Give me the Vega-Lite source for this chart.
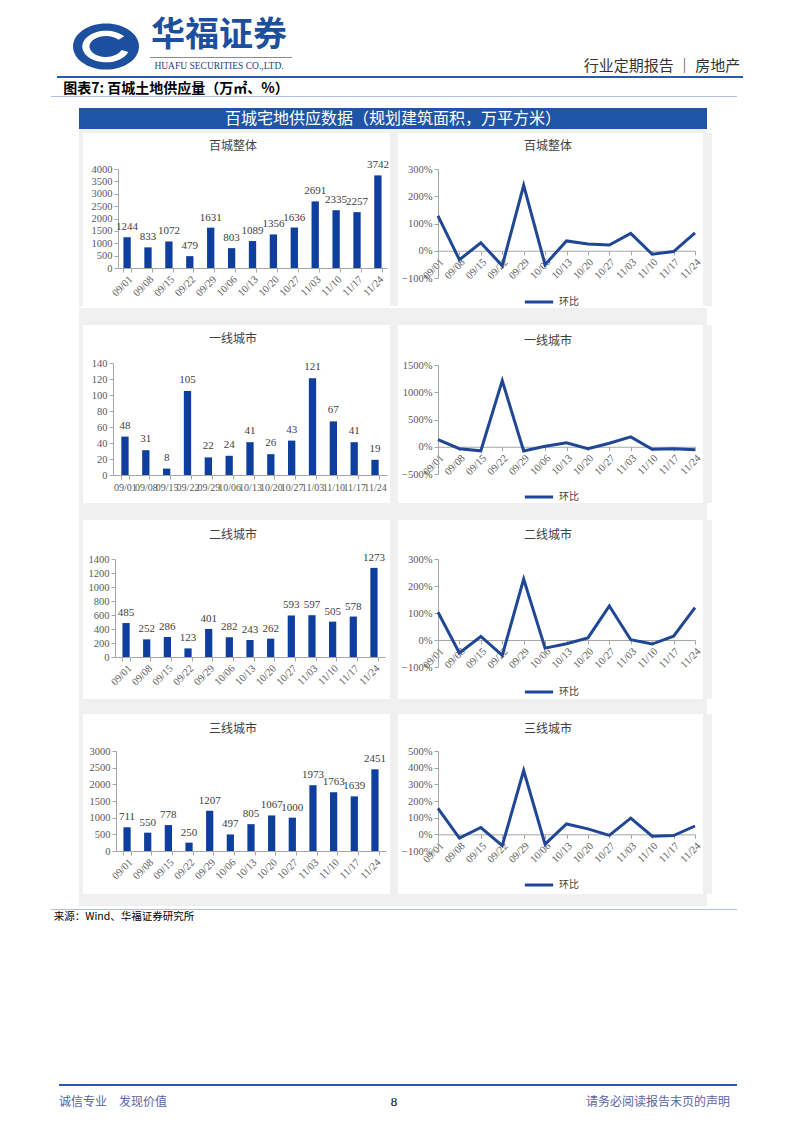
{
"$schema": "https://vega.github.io/schema/vega-lite/v6.json",
"padding": 0,
"background": "white",
"spacing": 0,
"resolve": {"scale": {"color": "independent"}, "legend": {"color": "independent"}},
"datasets": {"d": [
{"date":"09/01","total":1244,"t1":48,"t2":485,"t3":711,"total_mom":1.28,"t1_mom":1.30,"t2_mom":1.03,"t3_mom":1.56},
{"date":"09/08","total":833,"t1":31,"t2":252,"t3":550,"total_mom":-0.33,"t1_mom":-0.35,"t2_mom":-0.48,"t3_mom":-0.23},
{"date":"09/15","total":1072,"t1":8,"t2":286,"t3":778,"total_mom":0.29,"t1_mom":-0.74,"t2_mom":0.13,"t3_mom":0.41},
{"date":"09/22","total":479,"t1":105,"t2":123,"t3":250,"total_mom":-0.55,"t1_mom":12.13,"t2_mom":-0.57,"t3_mom":-0.68},
{"date":"09/29","total":1631,"t1":22,"t2":401,"t3":1207,"total_mom":2.40,"t1_mom":-0.79,"t2_mom":2.26,"t3_mom":3.83},
{"date":"10/06","total":803,"t1":24,"t2":282,"t3":497,"total_mom":-0.51,"t1_mom":0.09,"t2_mom":-0.30,"t3_mom":-0.59},
{"date":"10/13","total":1089,"t1":41,"t2":243,"t3":805,"total_mom":0.36,"t1_mom":0.71,"t2_mom":-0.14,"t3_mom":0.62},
{"date":"10/20","total":1356,"t1":26,"t2":262,"t3":1067,"total_mom":0.25,"t1_mom":-0.37,"t2_mom":0.08,"t3_mom":0.33},
{"date":"10/27","total":1636,"t1":43,"t2":593,"t3":1000,"total_mom":0.21,"t1_mom":0.65,"t2_mom":1.26,"t3_mom":-0.06},
{"date":"11/03","total":2691,"t1":121,"t2":597,"t3":1973,"total_mom":0.64,"t1_mom":1.81,"t2_mom":0.01,"t3_mom":0.97},
{"date":"11/10","total":2335,"t1":67,"t2":505,"t3":1763,"total_mom":-0.13,"t1_mom":-0.45,"t2_mom":-0.15,"t3_mom":-0.11},
{"date":"11/17","total":2257,"t1":41,"t2":578,"t3":1639,"total_mom":-0.03,"t1_mom":-0.39,"t2_mom":0.14,"t3_mom":-0.07},
{"date":"11/24","total":3742,"t1":19,"t2":1273,"t3":2451,"total_mom":0.66,"t1_mom":-0.54,"t2_mom":1.20,"t3_mom":0.50}
]},
"config": {
 "view": {"stroke": null},
 "concat": {"spacing": 0},
 "axis": {"labelFont": "Liberation Serif", "labelFontSize": 10.5, "labelColor": "#595959", "domainColor": "#a6a6a6", "tickColor": "#a6a6a6", "tickSize": 4, "grid": false, "labelPadding": 2},
 "title": {"font": "Noto Sans CJK SC", "fontSize": 12, "fontWeight": "normal", "color": "#404040", "anchor": "middle", "frame": "group"},
 "legend": {"direction": "horizontal", "symbolType": "stroke", "symbolStrokeWidth": 3, "symbolSize": 800, "labelFont": "Noto Sans CJK SC", "labelFontSize": 10, "labelColor": "#404040"}
},
"vconcat": [
 {"spacing":0,"hconcat":[
  {"width":73,"height":76,"data":{"values":[]},"mark":"point"},
  {"spacing":0,"vconcat":[
   {"width":66,"height":23,"data":{"values":[]},"mark":"point"},
   {"width":66,"height":47,"data":{"values":[{"k":1}]},"layer":[
    {"mark":{"type":"point","shape":"M-1,0A1,0.7,0,1,1,1,0A1,0.7,0,1,1,-1,0Z","size":4356,"filled":true,"color":"#1d4f9f","opacity":1,"strokeWidth":0}},
    {"mark":{"type":"point","shape":"M0.552,-0.309A0.72,0.48,0,1,0,0.677,0.164L0.47,0.109A0.5,0.32,0,1,1,0.383,-0.206Z","size":4356,"filled":true,"color":"white","opacity":1,"strokeWidth":0}}
   ]}
  ]},
  {"spacing":0,"vconcat":[
   {"width":160,"height":18,"data":{"values":[]},"mark":"point"},
   {"width":160,"height":36,"data":{"values":[{"t":"华福证券"}]},"mark":{"type":"text","font":"Noto Sans CJK SC","fontSize":34,"fontWeight":"bold","color":"#1d4f9f"},"encoding":{"text":{"field":"t","type":"nominal"}}},
   {"width":160,"height":3,"data":{"values":[]},"mark":"point"},
   {"spacing":0,"hconcat":[
    {"width":11,"height":1,"data":{"values":[]},"mark":"point"},
    {"width":142,"height":1,"view":{"fill":"#8c8c8c"},"data":{"values":[]},"mark":"point"}
   ]},
   {"width":160,"height":2,"data":{"values":[]},"mark":"point"},
   {"width":160,"height":12,"data":{"values":[{"t":"HUAFU SECURITIES CO.,LTD."}]},"mark":{"type":"text","font":"Liberation Serif","fontSize":9.5,"color":"#1d3f7a"},"encoding":{"text":{"field":"t","type":"nominal"}}}
  ]},
  {"width":277,"height":76,"data":{"values":[]},"mark":"point"},
  {"spacing":0,"vconcat":[
   {"width":172,"height":57,"data":{"values":[]},"mark":"point"},
   {"width":172,"height":18,"data":{"values":[{"t":"行业定期报告 ｜ 房地产"}]},"mark":{"type":"text","font":"Noto Sans CJK SC","fontSize":15,"color":"#333333"},"encoding":{"text":{"field":"t","type":"nominal"}}}
  ]}
 ]},
 {"spacing":0,"hconcat":[
  {"width":57,"height":2,"data":{"values":[]},"mark":"point"},
  {"width":686,"height":2,"view":{"fill":"#2c5aa6"},"data":{"values":[]},"mark":"point"}
 ]},
 {"width":10,"height":3,"data":{"values":[]},"mark":"point"},
 {"spacing":0,"hconcat":[
  {"width":46,"height":15,"data":{"values":[]},"mark":"point"},
  {"width":260,"height":15,"data":{"values":[{"t":"图表7: 百城土地供应量（万㎡、%）"}]},"mark":{"type":"text","font":"Noto Sans CJK SC","fontSize":14,"fontWeight":"bold","color":"#000000"},"encoding":{"text":{"field":"t","type":"nominal"}}}
 ]},
 {"spacing":0,"hconcat":[
  {"width":51,"height":1,"data":{"values":[]},"mark":"point"},
  {"width":686,"height":1,"view":{"fill":"#b3bfd8"},"data":{"values":[]},"mark":"point"}
 ]},
 {"width":10,"height":11,"data":{"values":[]},"mark":"point"},
 {"spacing":0,"hconcat":[
  {"width":79,"height":21,"data":{"values":[]},"mark":"point"},
  {"width":628,"height":21,"view":{"fill":"#1f55a6"},"data":{"values":[{"t":"百城宅地供应数据（规划建筑面积，万平方米）"}]},"mark":{"type":"text","font":"Noto Sans CJK SC","fontSize":16,"color":"white"},"encoding":{"text":{"field":"t","type":"nominal"}}}
 ]},
 {"spacing":0,"hconcat":[
  {"width":79,"height":4,"data":{"values":[]},"mark":"point"},
  {"width":628,"height":4,"view":{"fill":"#f0f0f0"},"data":{"values":[]},"mark":"point"}
 ]},
 {"spacing":0,"resolve":{"scale":{"color":"independent"},"legend":{"color":"independent"}},"hconcat":[
  {"width":79,"height":173,"data":{"values":[]},"mark":"point"},
  {"width":4,"height":173,"view":{"fill":"#f0f0f0"},"data":{"values":[]},"mark":"point"},
  {"width":307,"height":173,"data":{"name":"d"},
   "title":{"text":"百城整体","offset":-20,"dx":-3.5},
   "encoding":{
    "x":{"field":"date","type":"ordinal","sort":null,"scale":{"range":[35,304],"paddingInner":0.65,"paddingOuter":0.26},"axis":{"title":null,"offset":-38,"labelAngle":-45,"tickBand":"extent","labelOverlap":false}},
    "y":{"field":"total","type":"quantitative","scale":{"domain":[0,4000],"range":[135,36],"nice":false},"axis":{"title":null,"offset":-35,"format":"d","values":[0,500,1000,1500,2000,2500,3000,3500,4000]}}},
   "layer":[
    {"mark":{"type":"bar","color":"#0f3f9e"}},
    {"mark":{"type":"text","baseline":"bottom","dy":-5,"font":"Liberation Serif","fontSize":11,"color":"#404040"},"encoding":{"text":{"field":"total","type":"quantitative","format":"d"}}}
   ]},
  {"width":8,"height":173,"view":{"fill":"#f0f0f0"},"data":{"values":[]},"mark":"point"},
  {"width":300,"height":173,"data":{"name":"d"},
   "title":{"text":"百城整体","offset":-20},
   "mark":{"type":"line","strokeWidth":3},
   "encoding":{
    "x":{"field":"date","type":"ordinal","sort":null,"scale":{"type":"point","range":[40,297],"padding":0},"axis":{"title":null,"offset":-55.25,"labelAngle":-45,"labelOverlap":false}},
    "y":{"field":"total_mom","type":"quantitative","scale":{"domain":[-1,3],"range":[145,36],"nice":false,"zero":false},"axis":{"title":null,"offset":-40,"format":".0%","values":[-1,0,1,2,3]}},
    "color":{"datum":"环比","scale":{"range":["#1f4796"]},"legend":{"title":null,"orient":"none","legendX":125,"legendY":153}}}},
  {"width":9,"height":173,"view":{"fill":"#f0f0f0"},"data":{"values":[]},"mark":"point"}
 ]},
 {"spacing":0,"hconcat":[
  {"width":79,"height":17,"data":{"values":[]},"mark":"point"},
  {"width":628,"height":17,"view":{"fill":"#f0f0f0"},"data":{"values":[]},"mark":"point"}
 ]},
 {"spacing":0,"resolve":{"scale":{"color":"independent"},"legend":{"color":"independent"}},"hconcat":[
  {"width":79,"height":178,"data":{"values":[]},"mark":"point"},
  {"width":4,"height":178,"view":{"fill":"#f0f0f0"},"data":{"values":[]},"mark":"point"},
  {"width":307,"height":178,"data":{"name":"d"},
   "title":{"text":"一线城市","offset":-21,"dx":-3.5},
   "encoding":{
    "x":{"field":"date","type":"ordinal","sort":null,"scale":{"range":[30,304],"paddingInner":0.65,"paddingOuter":0.4},"axis":{"title":null,"offset":-28,"labelAngle":0,"labelPadding":3,"labelFontSize":10,"tickBand":"extent","labelOverlap":false}},
    "y":{"field":"t1","type":"quantitative","scale":{"domain":[0,140],"range":[150,38],"nice":false},"axis":{"title":null,"offset":-30,"format":"d","values":[0,20,40,60,80,100,120,140]}}},
   "layer":[
    {"mark":{"type":"bar","color":"#0f3f9e"}},
    {"mark":{"type":"text","baseline":"bottom","dy":-6,"font":"Liberation Serif","fontSize":11,"color":"#404040"},"encoding":{"text":{"field":"t1","type":"quantitative","format":"d"}}}
   ]},
  {"width":8,"height":178,"view":{"fill":"#f0f0f0"},"data":{"values":[]},"mark":"point"},
  {"width":300,"height":178,"data":{"name":"d"},
   "title":{"text":"一线城市","offset":-23},
   "mark":{"type":"line","strokeWidth":3},
   "encoding":{
    "x":{"field":"date","type":"ordinal","sort":null,"scale":{"type":"point","range":[40,297],"padding":0},"axis":{"title":null,"offset":-56.25,"labelAngle":-45,"labelOverlap":false}},
    "y":{"field":"t1_mom","type":"quantitative","scale":{"domain":[-5,15],"range":[149,40],"nice":false,"zero":false},"axis":{"title":null,"offset":-40,"format":".0%","values":[-5,0,5,10,15]}},
    "color":{"datum":"环比","scale":{"range":["#1f4796"]},"legend":{"title":null,"orient":"none","legendX":125,"legendY":156}}}},
  {"width":9,"height":178,"view":{"fill":"#f0f0f0"},"data":{"values":[]},"mark":"point"}
 ]},
 {"spacing":0,"hconcat":[
  {"width":79,"height":17,"data":{"values":[]},"mark":"point"},
  {"width":628,"height":17,"view":{"fill":"#f0f0f0"},"data":{"values":[]},"mark":"point"}
 ]},
 {"spacing":0,"resolve":{"scale":{"color":"independent"},"legend":{"color":"independent"}},"hconcat":[
  {"width":79,"height":179,"data":{"values":[]},"mark":"point"},
  {"width":4,"height":179,"view":{"fill":"#f0f0f0"},"data":{"values":[]},"mark":"point"},
  {"width":307,"height":179,"data":{"name":"d"},
   "title":{"text":"二线城市","offset":-22,"dx":-3.5},
   "encoding":{
    "x":{"field":"date","type":"ordinal","sort":null,"scale":{"range":[32,302],"paddingInner":0.65,"paddingOuter":0.36},"axis":{"title":null,"offset":-42,"labelAngle":-45,"tickBand":"extent","labelOverlap":false}},
    "y":{"field":"t2","type":"quantitative","scale":{"domain":[0,1400],"range":[137,39],"nice":false},"axis":{"title":null,"offset":-32,"format":"d","values":[0,200,400,600,800,1000,1200,1400]}}},
   "layer":[
    {"mark":{"type":"bar","color":"#0f3f9e"}},
    {"mark":{"type":"text","baseline":"bottom","dy":-5,"font":"Liberation Serif","fontSize":11,"color":"#404040"},"encoding":{"text":{"field":"t2","type":"quantitative","format":"d"}}}
   ]},
  {"width":8,"height":179,"view":{"fill":"#f0f0f0"},"data":{"values":[]},"mark":"point"},
  {"width":300,"height":179,"data":{"name":"d"},
   "title":{"text":"二线城市","offset":-22},
   "mark":{"type":"line","strokeWidth":3},
   "encoding":{
    "x":{"field":"date","type":"ordinal","sort":null,"scale":{"type":"point","range":[40,297],"padding":0},"axis":{"title":null,"offset":-59,"labelAngle":-45,"labelOverlap":false}},
    "y":{"field":"t2_mom","type":"quantitative","scale":{"domain":[-1,3],"range":[147,39],"nice":false,"zero":false},"axis":{"title":null,"offset":-40,"format":".0%","values":[-1,0,1,2,3]}},
    "color":{"datum":"环比","scale":{"range":["#1f4796"]},"legend":{"title":null,"orient":"none","legendX":125,"legendY":156}}}},
  {"width":9,"height":179,"view":{"fill":"#f0f0f0"},"data":{"values":[]},"mark":"point"}
 ]},
 {"spacing":0,"hconcat":[
  {"width":79,"height":15,"data":{"values":[]},"mark":"point"},
  {"width":628,"height":15,"view":{"fill":"#f0f0f0"},"data":{"values":[]},"mark":"point"}
 ]},
 {"spacing":0,"resolve":{"scale":{"color":"independent"},"legend":{"color":"independent"}},"hconcat":[
  {"width":79,"height":180,"data":{"values":[]},"mark":"point"},
  {"width":4,"height":180,"view":{"fill":"#f0f0f0"},"data":{"values":[]},"mark":"point"},
  {"width":307,"height":180,"data":{"name":"d"},
   "title":{"text":"三线城市","offset":-22,"dx":-3.5},
   "encoding":{
    "x":{"field":"date","type":"ordinal","sort":null,"scale":{"range":[33,303],"paddingInner":0.65,"paddingOuter":0.36},"axis":{"title":null,"offset":-43,"labelAngle":-45,"tickBand":"extent","labelOverlap":false}},
    "y":{"field":"t3","type":"quantitative","scale":{"domain":[0,3000],"range":[137,37],"nice":false},"axis":{"title":null,"offset":-33,"format":"d","values":[0,500,1000,1500,2000,2500,3000]}}},
   "layer":[
    {"mark":{"type":"bar","color":"#0f3f9e"}},
    {"mark":{"type":"text","baseline":"bottom","dy":-5,"font":"Liberation Serif","fontSize":11,"color":"#404040"},"encoding":{"text":{"field":"t3","type":"quantitative","format":"d"}}}
   ]},
  {"width":8,"height":180,"view":{"fill":"#f0f0f0"},"data":{"values":[]},"mark":"point"},
  {"width":300,"height":180,"data":{"name":"d"},
   "title":{"text":"三线城市","offset":-22},
   "mark":{"type":"line","strokeWidth":3},
   "encoding":{
    "x":{"field":"date","type":"ordinal","sort":null,"scale":{"type":"point","range":[40,297],"padding":0},"axis":{"title":null,"offset":-59.67,"labelAngle":-45,"labelOverlap":false}},
    "y":{"field":"t3_mom","type":"quantitative","scale":{"domain":[-1,5],"range":[137,37],"nice":false,"zero":false},"axis":{"title":null,"offset":-40,"format":".0%","values":[-1,0,1,2,3,4,5]}},
    "color":{"datum":"环比","scale":{"range":["#1f4796"]},"legend":{"title":null,"orient":"none","legendX":125,"legendY":155}}}},
  {"width":9,"height":180,"view":{"fill":"#f0f0f0"},"data":{"values":[]},"mark":"point"}
 ]},
 {"spacing":0,"hconcat":[
  {"width":79,"height":12,"data":{"values":[]},"mark":"point"},
  {"width":628,"height":12,"view":{"fill":"#f0f0f0"},"data":{"values":[]},"mark":"point"}
 ]},
 {"width":10,"height":3,"data":{"values":[]},"mark":"point"},
 {"spacing":0,"hconcat":[
  {"width":51,"height":1,"data":{"values":[]},"mark":"point"},
  {"width":686,"height":1,"view":{"fill":"#b3bfd8"},"data":{"values":[]},"mark":"point"}
 ]},
 {"spacing":0,"hconcat":[
  {"width":44,"height":14,"data":{"values":[]},"mark":"point"},
  {"width":160,"height":14,"data":{"values":[{"t":"来源：Wind、华福证券研究所"}]},"mark":{"type":"text","font":"Noto Sans CJK SC","fontSize":10.5,"color":"#000000"},"encoding":{"text":{"field":"t","type":"nominal"}}}
 ]},
 {"width":10,"height":160,"data":{"values":[]},"mark":"point"},
 {"spacing":0,"hconcat":[
  {"width":59,"height":2,"data":{"values":[]},"mark":"point"},
  {"width":678,"height":2,"view":{"fill":"#2c5aa6"},"data":{"values":[]},"mark":"point"}
 ]},
 {"width":10,"height":9,"data":{"values":[]},"mark":"point"},
 {"spacing":0,"hconcat":[
  {"width":49,"height":14,"data":{"values":[]},"mark":"point"},
  {"width":128,"height":14,"data":{"values":[{"t":"诚信专业　发现价值"}]},"mark":{"type":"text","font":"Noto Sans CJK SC","fontSize":12,"color":"#5a64a0"},"encoding":{"text":{"field":"t","type":"nominal"}}},
  {"width":207,"height":14,"data":{"values":[]},"mark":"point"},
  {"width":20,"height":14,"data":{"values":[{"t":"8"}]},"mark":{"type":"text","font":"Liberation Serif","fontSize":13,"color":"#000000"},"encoding":{"text":{"field":"t","type":"nominal"}}},
  {"width":172,"height":14,"data":{"values":[]},"mark":"point"},
  {"width":164,"height":14,"data":{"values":[{"t":"请务必阅读报告末页的声明"}]},"mark":{"type":"text","font":"Noto Sans CJK SC","fontSize":12,"color":"#5a64a0"},"encoding":{"text":{"field":"t","type":"nominal"}}}
 ]}
]
}
